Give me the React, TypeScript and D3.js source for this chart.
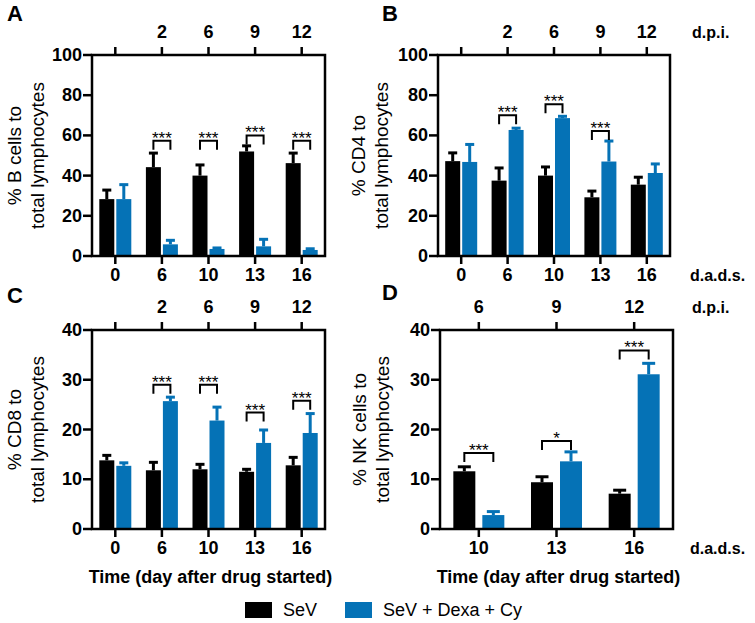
import React from "react";
import * as d3 from "d3";

// ---------- data ----------
const daysABC = ["0", "6", "10", "13", "16"];
const dpiABC = ["", "2", "6", "9", "12"];
const daysD = ["10", "13", "16"];
const dpiD = ["6", "9", "12"];

const seriesNames = ["SeV", "SeV + Dexa + Cy"];

// Panel A: % B cells
const bSev = [28.3, 44.2, 40, 52, 46.2];
const bSevErr = [32.8, 51.2, 45.3, 54.8, 51.2];
const bDexa = [28.3, 5.8, 3.5, 4.8, 3.0];
const bDexaErr = [35.5, 7.8, 4.0, 8.3, 3.6];
const bSig = [
  { i: 1, y: 57.3, label: "***" },
  { i: 2, y: 57.3, label: "***" },
  { i: 3, y: 60, label: "***" },
  { i: 4, y: 57.3, label: "***" },
];

// Panel B: % CD4
const cd4Sev = [47.2, 37.5, 40, 29.2, 35.5];
const cd4SevErr = [51.3, 43.8, 44.3, 32.3, 39.2];
const cd4Dexa = [46.8, 62.7, 68.6, 47, 41.3];
const cd4DexaErr = [55.5, 63.6, 69.5, 57.2, 45.8];
const cd4Sig = [
  { i: 1, y: 70, label: "***" },
  { i: 2, y: 75.5, label: "***" },
  { i: 3, y: 62.2, label: "***" },
];

// Panel C: % CD8
const cd8Sev = [13.8, 11.8, 12, 11.5, 12.8];
const cd8SevErr = [14.8, 13.4, 13, 12, 14.4];
const cd8Dexa = [12.7, 25.7, 21.8, 17.3, 19.3];
const cd8DexaErr = [13.3, 26.5, 24.5, 19.9, 23.2];
const cd8Sig = [
  { i: 1, y: 29, label: "***" },
  { i: 2, y: 29, label: "***" },
  { i: 3, y: 23.4, label: "***" },
  { i: 4, y: 25.8, label: "***" },
];

// Panel D: % NK cells
const nkSev = [11.6, 9.4, 7.1];
const nkSevErr = [12.5, 10.5, 7.8];
const nkDexa = [2.8, 13.6, 31.1];
const nkDexaErr = [3.5, 15.5, 33.3];
const nkSig = [
  { i: 0, y: 15.3, label: "***" },
  { i: 1, y: 17.7, label: "*" },
  { i: 2, y: 35.9, label: "***" },
];

const ticks100 = [0, 20, 40, 60, 80, 100];
const ticks40 = [0, 10, 20, 30, 40];

// ---------- styles ----------
const FONT = "'Liberation Sans', Arial, Helvetica, sans-serif";
const BLACK = "#000000";
const BLUE = "#0572b6";

type PanelCfg = {
  letter: string;
  letterX: number;
  letterY: number;
  left: number;
  right: number;
  top: number;
  bottom: number;
  yMax: number;
  yTicks: number[];
  days: string[];
  dpi: string[];
  sev: number[];
  sevErr: number[];
  dexa: number[];
  dexaErr: number[];
  sig: { i: number; y: number; label: string }[];
  yLabel: string[];
  yLabelX: [number, number];
  barW: number;
  gap: number;
  capW: number;
  showDpiLabel: boolean;
  showTitle: boolean;
};

const panels: PanelCfg[] = [
  {
    letter: "A", letterX: 7, letterY: 21,
    left: 92, right: 325, top: 55, bottom: 256,
    yMax: 100, yTicks: ticks100,
    days: daysABC, dpi: dpiABC,
    sev: bSev, sevErr: bSevErr, dexa: bDexa, dexaErr: bDexaErr, sig: bSig,
    yLabel: ["% B cells to", "total lymphocytes"], yLabelX: [14, 37],
    barW: 15, gap: 2, capW: 9, showDpiLabel: false, showTitle: false,
  },
  {
    letter: "B", letterX: 382, letterY: 21,
    left: 438, right: 670, top: 55, bottom: 256,
    yMax: 100, yTicks: ticks100,
    days: daysABC, dpi: dpiABC,
    sev: cd4Sev, sevErr: cd4SevErr, dexa: cd4Dexa, dexaErr: cd4DexaErr, sig: cd4Sig,
    yLabel: ["% CD4 to", "total lymphocytes"], yLabelX: [358, 381],
    barW: 15, gap: 2, capW: 9, showDpiLabel: true, showTitle: false,
  },
  {
    letter: "C", letterX: 7, letterY: 303,
    left: 92, right: 325, top: 330, bottom: 529,
    yMax: 40, yTicks: ticks40,
    days: daysABC, dpi: dpiABC,
    sev: cd8Sev, sevErr: cd8SevErr, dexa: cd8Dexa, dexaErr: cd8DexaErr, sig: cd8Sig,
    yLabel: ["% CD8 to", "total lymphocytes"], yLabelX: [14, 37],
    barW: 15, gap: 2, capW: 9, showDpiLabel: false, showTitle: true,
  },
  {
    letter: "D", letterX: 382, letterY: 300,
    left: 440, right: 673, top: 330, bottom: 529,
    yMax: 40, yTicks: ticks40,
    days: daysD, dpi: dpiD,
    sev: nkSev, sevErr: nkSevErr, dexa: nkDexa, dexaErr: nkDexaErr, sig: nkSig,
    yLabel: ["% NK cells to", "total lymphocytes"], yLabelX: [359, 382],
    barW: 22, gap: 7, capW: 13, showDpiLabel: true, showTitle: true,
  },
];

function Panel({ p }: { p: PanelCfg }) {
  const x = d3.scaleBand<string>().domain(p.days).range([p.left, p.right]).paddingInner(0).paddingOuter(0);
  const y = d3.scaleLinear().domain([0, p.yMax]).range([p.bottom, p.top]);
  const cx = (d: string) => (x(d) as number) + x.bandwidth() / 2;
  const midY = (p.top + p.bottom) / 2;

  const bars: JSX.Element[] = [];
  p.days.forEach((d, i) => {
    const c = cx(d);
    const bx0 = c - p.gap / 2 - p.barW;
    const bx1 = c + p.gap / 2;
    const groups = [
      { x0: bx0, v: p.sev[i], e: p.sevErr[i], col: BLACK },
      { x0: bx1, v: p.dexa[i], e: p.dexaErr[i], col: BLUE },
    ];
    groups.forEach((g, k) => {
      const bc = g.x0 + p.barW / 2;
      bars.push(
        <g key={`${d}-${k}`}>
          <line x1={bc} x2={bc} y1={y(g.v)} y2={y(g.e)} stroke={g.col} strokeWidth={3} />
          <line x1={bc - p.capW / 2} x2={bc + p.capW / 2} y1={y(g.e)} y2={y(g.e)} stroke={g.col} strokeWidth={3} />
          <rect x={g.x0} y={y(g.v)} width={p.barW} height={p.bottom - y(g.v)} fill={g.col} />
        </g>
      );
    });
  });

  const sigs = p.sig.map((s, j) => {
    const d = p.days[s.i];
    const c = cx(d);
    const l = c - p.gap / 2 - p.barW / 2;
    const r = c + p.gap / 2 + p.barW / 2;
    const by = y(s.y);
    return (
      <g key={`sig-${j}`}>
        <path d={`M${l},${by + 9}V${by}H${r}V${by + 9}`} fill="none" stroke={BLACK} strokeWidth={2} />
        <text x={(l + r) / 2} y={by + 3} textAnchor="middle" fontSize={17} fontFamily={FONT}>
          {s.label}
        </text>
      </g>
    );
  });

  return (
    <g>
      <text x={p.letterX} y={p.letterY} fontSize={22} fontWeight="bold" fontFamily={FONT}>{p.letter}</text>
      {/* y label */}
      {p.yLabel.map((t, k) => (
        <text key={k} transform={`translate(${p.yLabelX[k]},${midY}) rotate(-90)`} textAnchor="middle"
          dominantBaseline="central" fontSize={19} fontFamily={FONT}>{t}</text>
      ))}
      {bars}
      {sigs}
      {/* frame */}
      <rect x={p.left} y={p.top} width={p.right - p.left} height={p.bottom - p.top} fill="none" stroke={BLACK} strokeWidth={2.5} />
      {/* y ticks */}
      {p.yTicks.map((t) => (
        <g key={`yt-${t}`}>
          <line x1={p.left - 9} x2={p.left} y1={y(t)} y2={y(t)} stroke={BLACK} strokeWidth={2.5} />
          <text x={p.left - 10} y={y(t)} textAnchor="end" dominantBaseline="central" fontSize={18}
            fontWeight="bold" fontFamily={FONT}>{t}</text>
        </g>
      ))}
      {/* bottom and top ticks */}
      {p.days.map((d, i) => (
        <g key={`xt-${d}`}>
          <line x1={cx(d)} x2={cx(d)} y1={p.bottom} y2={p.bottom + 8} stroke={BLACK} strokeWidth={2.5} />
          <text x={cx(d)} y={p.bottom + 19} textAnchor="middle" dominantBaseline="central" fontSize={18}
            fontWeight="bold" fontFamily={FONT}>{d}</text>
          <line x1={cx(d)} x2={cx(d)} y1={p.top} y2={p.top - 8} stroke={BLACK} strokeWidth={2.5} />
          {p.dpi[i] !== "" && (
            <text x={cx(d)} y={p.top - 23} textAnchor="middle" dominantBaseline="central" fontSize={18}
              fontWeight="bold" fontFamily={FONT}>{p.dpi[i]}</text>
          )}
        </g>
      ))}
      {p.showDpiLabel && (
        <>
          <text x={692} y={p.top - 23} dominantBaseline="central" fontSize={16} fontWeight="bold" fontFamily={FONT}>d.p.i.</text>
          <text x={690} y={p.bottom + 19} dominantBaseline="central" fontSize={16} fontWeight="bold" fontFamily={FONT}>d.a.d.s.</text>
        </>
      )}
      {p.showTitle && (
        <text x={(p.left + p.right) / 2 + 2} y={p.bottom + 48} textAnchor="middle" dominantBaseline="central"
          fontSize={18} fontWeight="bold" fontFamily={FONT}>Time (day after drug started)</text>
      )}
    </g>
  );
}

export default function App() {
  const legendX = [245, 345];
  const colors = [BLACK, BLUE];
  return (
    <svg width={755} height={623} style={{ position: "absolute", left: 0, top: 0, background: "#fff" }}>
      <rect width={755} height={623} fill="#fff" />
      {panels.map((p) => (
        <Panel key={p.letter} p={p} />
      ))}
      {seriesNames.map((n, i) => (
        <g key={n}>
          <rect x={legendX[i]} y={602} width={27} height={16} fill={colors[i]} />
          <text x={legendX[i] + 38} y={610} dominantBaseline="central" fontSize={18} fontFamily={FONT}>{n}</text>
        </g>
      ))}
    </svg>
  );
}
